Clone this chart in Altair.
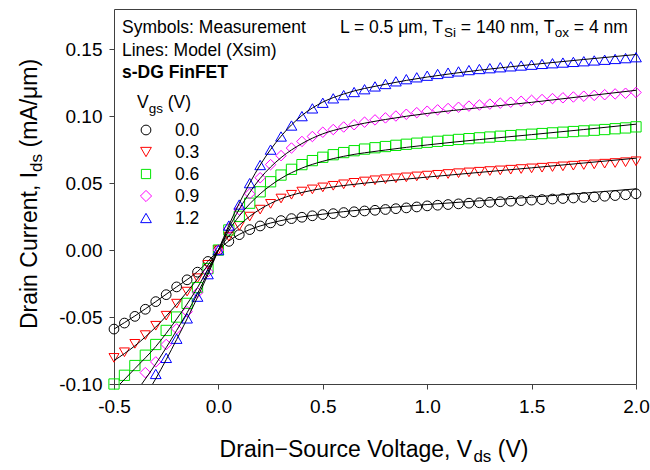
import altair as alt
import pandas as pd

# ---------------- data ----------------
V_MEAS = [-0.50, -0.45, -0.40, -0.35, -0.30, -0.25, -0.20, -0.15, -0.10, -0.05,
          0.00, 0.05, 0.10, 0.15, 0.20, 0.25, 0.30, 0.35, 0.40, 0.45,
          0.50, 0.55, 0.60, 0.65, 0.70, 0.75, 0.80, 0.85, 0.90, 0.95,
          1.00, 1.05, 1.10, 1.15, 1.20, 1.25, 1.30, 1.35, 1.40, 1.45,
          1.50, 1.55, 1.60, 1.65, 1.70, 1.75, 1.80, 1.85, 1.90, 1.95, 2.00]

I_MEAS_00 = [-0.0590, -0.0545, -0.0495, -0.0442, -0.0385, -0.0333, -0.0275, -0.0222, -0.0165, -0.0085,
             0.0000, 0.0065, 0.0115, 0.0153, 0.0180, 0.0203, 0.0220, 0.0235, 0.0245, 0.0256,
             0.0265, 0.0272, 0.0280, 0.0286, 0.0292, 0.0297, 0.0303, 0.0309, 0.0315, 0.0322,
             0.0330, 0.0335, 0.0340, 0.0345, 0.0350, 0.0353, 0.0357, 0.0361, 0.0365, 0.0369,
             0.0373, 0.0377, 0.0381, 0.0385, 0.0389, 0.0393, 0.0397, 0.0402, 0.0407, 0.0413, 0.0420]

I_MEAS_03 = [-0.0805, -0.0763, -0.0700, -0.0635, -0.0565, -0.0490, -0.0400, -0.0310, -0.0210, -0.0110,
             0.0000, 0.0100, 0.0180, 0.0250, 0.0302, 0.0345, 0.0385, 0.0413, 0.0437, 0.0453,
             0.0468, 0.0480, 0.0491, 0.0502, 0.0512, 0.0521, 0.0529, 0.0536, 0.0543, 0.0550,
             0.0556, 0.0562, 0.0568, 0.0574, 0.0580, 0.0585, 0.0590, 0.0595, 0.0600, 0.0605,
             0.0610, 0.0615, 0.0620, 0.0625, 0.0630, 0.0635, 0.0640, 0.0645, 0.0650, 0.0656, 0.0663]

I_MEAS_06 = [-0.1000, -0.0935, -0.0862, -0.0785, -0.0705, -0.0600, -0.0500, -0.0398, -0.0280, -0.0138,
             0.0000, 0.0150, 0.0252, 0.0350, 0.0435, 0.0510, 0.0560, 0.0603, 0.0638, 0.0668,
             0.0693, 0.0712, 0.0728, 0.0742, 0.0754, 0.0764, 0.0773, 0.0782, 0.0790, 0.0798,
             0.0805, 0.0812, 0.0819, 0.0826, 0.0832, 0.0838, 0.0844, 0.0850, 0.0855, 0.0860,
             0.0865, 0.0870, 0.0875, 0.0880, 0.0885, 0.0890, 0.0895, 0.0900, 0.0906, 0.0912, 0.0920]

I_MEAS_09 = [None, None, None, -0.0915, -0.0835, -0.0705, -0.0588, -0.0460, -0.0318, -0.0162,
             0.0000, 0.0160, 0.0300, 0.0420, 0.0540, 0.0638, 0.0705, 0.0762, 0.0811, 0.0848,
             0.0880, 0.0900, 0.0919, 0.0936, 0.0955, 0.0972, 0.0987, 0.1001, 0.1014, 0.1026,
             0.1037, 0.1047, 0.1057, 0.1066, 0.1075, 0.1083, 0.1090, 0.1097, 0.1104, 0.1111,
             0.1118, 0.1124, 0.1131, 0.1137, 0.1143, 0.1149, 0.1155, 0.1160, 0.1166, 0.1171, 0.1177]

I_MEAS_12 = [None, None, None, None, -0.0925, -0.0805, -0.0662, -0.0510, -0.0348, -0.0180,
             0.0000, 0.0183, 0.0340, 0.0500, 0.0635, 0.0750, 0.0848, 0.0930, 0.1000, 0.1058,
             0.1100, 0.1133, 0.1157, 0.1180, 0.1201, 0.1222, 0.1240, 0.1260, 0.1276, 0.1290,
             0.1302, 0.1315, 0.1325, 0.1334, 0.1344, 0.1352, 0.1358, 0.1365, 0.1372, 0.1378,
             0.1384, 0.1390, 0.1395, 0.1400, 0.1405, 0.1410, 0.1416, 0.1421, 0.1427, 0.1433, 0.1440]

# model (Xsim) curves
V_MOD_00 = [-0.5, -0.4, -0.3, -0.2, -0.1, -0.05, 0.0, 0.05, 0.1, 0.15, 0.2, 0.3, 0.4, 0.5, 0.6, 0.8, 1.0, 1.25, 1.5, 1.75, 2.0]
I_MOD_00 = [-0.0590, -0.0492, -0.0385, -0.0275, -0.0160, -0.0085, 0.0, 0.0068, 0.0117, 0.0153, 0.0180, 0.0220, 0.0248,
            0.0268, 0.0287, 0.0315, 0.0340, 0.0368, 0.0395, 0.0425, 0.0457]
V_MOD_03 = [-0.5, -0.4, -0.3, -0.2, -0.1, -0.05, 0.0, 0.05, 0.1, 0.15, 0.2, 0.3, 0.4, 0.5, 0.6, 0.8, 1.0, 1.25, 1.5, 1.75, 2.0]
I_MOD_03 = [-0.0825, -0.0715, -0.0575, -0.0405, -0.0215, -0.0112, 0.0, 0.0105, 0.0185, 0.0252, 0.0305, 0.0383, 0.0430,
            0.0460, 0.0482, 0.0515, 0.0545, 0.0580, 0.0614, 0.0650, 0.0686]
V_MOD_06 = [-0.471, -0.4, -0.3, -0.2, -0.1, -0.05, 0.0, 0.05, 0.1, 0.15, 0.2, 0.3, 0.4, 0.5, 0.6, 0.8, 1.0, 1.25, 1.5, 1.75, 2.0]
I_MOD_06 = [-0.1000, -0.0885, -0.0720, -0.0515, -0.0280, -0.0142, 0.0, 0.0145, 0.0255, 0.0345, 0.0420, 0.0535, 0.0612,
            0.0663, 0.0700, 0.0747, 0.0785, 0.0825, 0.0862, 0.0900, 0.0940]
V_MOD_09 = [-0.367, -0.3, -0.2, -0.1, -0.05, 0.0, 0.05, 0.1, 0.15, 0.2, 0.3, 0.4, 0.5, 0.6, 0.8, 1.0, 1.25, 1.5, 1.75, 2.0]
I_MOD_09 = [-0.1000, -0.0850, -0.0600, -0.0325, -0.0165, 0.0, 0.0165, 0.0305, 0.0430, 0.0535, 0.0690, 0.0795,
            0.0868, 0.0913, 0.0975, 0.1020, 0.1063, 0.1103, 0.1148, 0.1193]
V_MOD_12 = [-0.315, -0.3, -0.2, -0.1, -0.05, 0.0, 0.05, 0.1, 0.15, 0.2, 0.3, 0.4, 0.5, 0.6, 0.8, 1.0, 1.25, 1.5, 1.75, 2.0]
I_MOD_12 = [-0.1000, -0.0960, -0.0668, -0.0352, -0.0182, 0.0, 0.0185, 0.0350, 0.0500, 0.0635, 0.0850, 0.1005,
            0.1105, 0.1165, 0.1238, 0.1292, 0.1343, 0.1385, 0.1423, 0.1460]

VGS_LABELS = ["0.0", "0.3", "0.6", "0.9", "1.2"]
COLORS = ["#000000", "#ff0000", "#00e600", "#ff00ff", "#0000ff"]
SHAPES = ["circle", "triangle-down", "square", "diamond", "triangle-up"]
SIZES = [95, 115, 85, 125, 115]

X_TICKS = [-0.5, 0.0, 0.5, 1.0, 1.5, 2.0]
Y_TICKS = [-0.10, -0.05, 0.00, 0.05, 0.10, 0.15]

# ---------------- tables ----------------
meas_rows = []
for lab, vals in zip(VGS_LABELS, [I_MEAS_00, I_MEAS_03, I_MEAS_06, I_MEAS_09, I_MEAS_12]):
    for v, i in zip(V_MEAS, vals):
        if i is not None:
            meas_rows.append({"vds": v, "ids": i, "vgs": lab})
meas = pd.DataFrame(meas_rows)

mod_rows = []
for lab, vs, ids in zip(VGS_LABELS,
                        [V_MOD_00, V_MOD_03, V_MOD_06, V_MOD_09, V_MOD_12],
                        [I_MOD_00, I_MOD_03, I_MOD_06, I_MOD_09, I_MOD_12]):
    for v, i in zip(vs, ids):
        mod_rows.append({"vds": v, "ids": i, "vgs": lab})
model = pd.DataFrame(mod_rows)

# ---------------- layout ----------------
PAD_L, PAD_T = 114, 9
W, H = 522, 375
FONT = "Liberation Sans"

xscale = alt.Scale(domain=[-0.5, 2.0], nice=False, zero=False)
yscale = alt.Scale(domain=[-0.10, 0.18], nice=False, zero=False)

TICKFS = 19
xaxis = alt.Axis(values=X_TICKS, title=None, grid=False, domain=False,
                 tickSize=5, tickColor="#404040", tickWidth=1, labelFlush=False,
                 labelFont=FONT, labelFontSize=TICKFS, labelColor="black", labelPadding=8,
                 labelExpr="replace(format(datum.value, '.1f'), '\u2212', '-')")
yaxis = alt.Axis(values=Y_TICKS, title=None, grid=False, domain=False,
                 tickSize=5, tickColor="#404040", tickWidth=1, labelFlush=False,
                 labelFont=FONT, labelFontSize=TICKFS, labelColor="black", labelPadding=7,
                 labelExpr="replace(format(datum.value, '.2f'), '\u2212', '-')")

cscale = alt.Scale(domain=VGS_LABELS, range=COLORS)
shscale = alt.Scale(domain=VGS_LABELS, range=SHAPES)
szscale = alt.Scale(domain=VGS_LABELS, range=SIZES)

points = alt.Chart(meas).mark_point(filled=False, strokeWidth=1, opacity=1).encode(
    x=alt.X("vds:Q", scale=xscale, axis=xaxis),
    y=alt.Y("ids:Q", scale=yscale, axis=yaxis),
    color=alt.Color("vgs:N", scale=cscale, legend=None),
    shape=alt.Shape("vgs:N", scale=shscale, legend=None),
    size=alt.Size("vgs:N", scale=szscale, legend=None),
)

lines = alt.Chart(model).mark_line(color="black", strokeWidth=1, interpolate="monotone").encode(
    x=alt.X("vds:Q", scale=xscale),
    y=alt.Y("ids:Q", scale=yscale),
    detail="vgs:N",
)

# ---------------- text helpers ----------------
CW = {' ': 278, '(': 333, ')': 333, ',': 278, '-': 333, '.': 278, '/': 278, ':': 278, '=': 584,
      'A': 667, 'C': 722, 'D': 722, 'E': 667, 'F': 611, 'G': 778, 'I': 278, 'L': 556, 'M': 833,
      'S': 667, 'T': 611, 'V': 667, 'X': 667, 'a': 556, 'b': 556, 'c': 500, 'd': 556, 'e': 556,
      'g': 556, 'i': 222, 'l': 222, 'm': 833, 'n': 556, 'o': 556, 'r': 333, 's': 500, 't': 278,
      'u': 556, 'x': 500, 'y': 500, '\u03bc': 576, '\u2212': 584}
for d in "0123456789":
    CW[d] = 556


def tw(text, size):
    return sum(CW.get(c, 556) for c in text) * size / 1000.0


def text_layer(text, x, y, size, bold=False, angle=0, align="left", baseline="alphabetic"):
    kw = dict(align=align, baseline=baseline, font=FONT, fontSize=size, color="black",
              fontWeight="bold" if bold else "normal")
    if angle:
        kw["angle"] = angle
    return alt.Chart(pd.DataFrame({"t": [text]})).mark_text(**kw).encode(
        x=alt.value(x - PAD_L), y=alt.value(y - PAD_T), text="t:N")


def run(segments, x0, y0, vertical=False):
    """segments: (text, size, shift) drawn one after another (absolute coords)."""
    out = []
    pos = 0.0
    for text, size, shift in segments:
        lead = len(text) - len(text.lstrip(" "))
        pos += lead * CW[' '] * size / 1000.0
        body = text.strip(" ")
        if vertical:
            out.append(text_layer(body, x0 + shift, y0 - pos, size, angle=270))
        else:
            out.append(text_layer(body, x0 + pos, y0 + shift, size))
        pos += tw(body, size)
    return out


BASE, SUB = 17.5, 13.5
ann = []
ann.append(text_layer("Symbols: Measurement", 122, 33, BASE))
ann.append(text_layer("Lines: Model (Xsim)", 122, 55.5, BASE))
ann.append(text_layer("s-DG FinFET", 122, 78, BASE, bold=True))
ann += run([("V", BASE, 0), ("gs", SUB, 5), (" (V)", BASE, 0)], 137, 107.5)
ann += run([("L = 0.5 \u03bcm, T", BASE, 0), ("Si", SUB, 4.5), (" = 140 nm, T", BASE, 0),
            ("ox", SUB, 4.5), (" = 4 nm", BASE, 0)], 340, 32.5)

TB, TS = 23, 17
xt = [("Drain\u2212Source Voltage, V", TB, 0), ("ds", TS, 5), (" (V)", TB, 0)]
xt_w = sum(tw(t, s) for t, s, _ in xt)
ann += run(xt, 374 - xt_w / 2, 457)
yt = [("Drain Current, I", TB, 0), ("ds", TS, 5), (" (mA/\u03bcm)", TB, 0)]
yt_w = sum(tw(t, s) for t, s, _ in yt)
ann += run(yt, 37, 194 + yt_w / 2, vertical=True)

# legend rows (symbol + label), one layer each
LEG_X, LEG_TX, LEG_Y0, LEG_DY = 146, 175, 130, 22
leg = []
for k, (lab, col, shp, sz) in enumerate(zip(VGS_LABELS, COLORS, SHAPES, SIZES)):
    yk = LEG_Y0 + LEG_DY * k - PAD_T
    one = pd.DataFrame({"vgs": [lab]})
    leg.append(alt.Chart(one).mark_point(filled=False, strokeWidth=1, opacity=1, shape=shp,
                                         size=sz, color=col).encode(
        x=alt.value(LEG_X - PAD_L), y=alt.value(yk)))
    leg.append(alt.Chart(one).mark_text(align="left", baseline="middle", font=FONT, fontSize=BASE,
                                        color="black", dy=1).encode(
        x=alt.value(LEG_TX - PAD_L), y=alt.value(yk), text="vgs:N"))

chart = alt.layer(points, lines, *leg, *ann).properties(
    width=W, height=H,
    autosize=alt.AutoSizeParams(type="none"),
    padding={"left": PAD_L, "top": PAD_T, "right": 650 - PAD_L - W, "bottom": 470 - PAD_T - H},
    background="white",
).configure_view(stroke="#404040", strokeWidth=1)

chart.save("out.html", embed_options={"renderer": "svg", "actions": False})
